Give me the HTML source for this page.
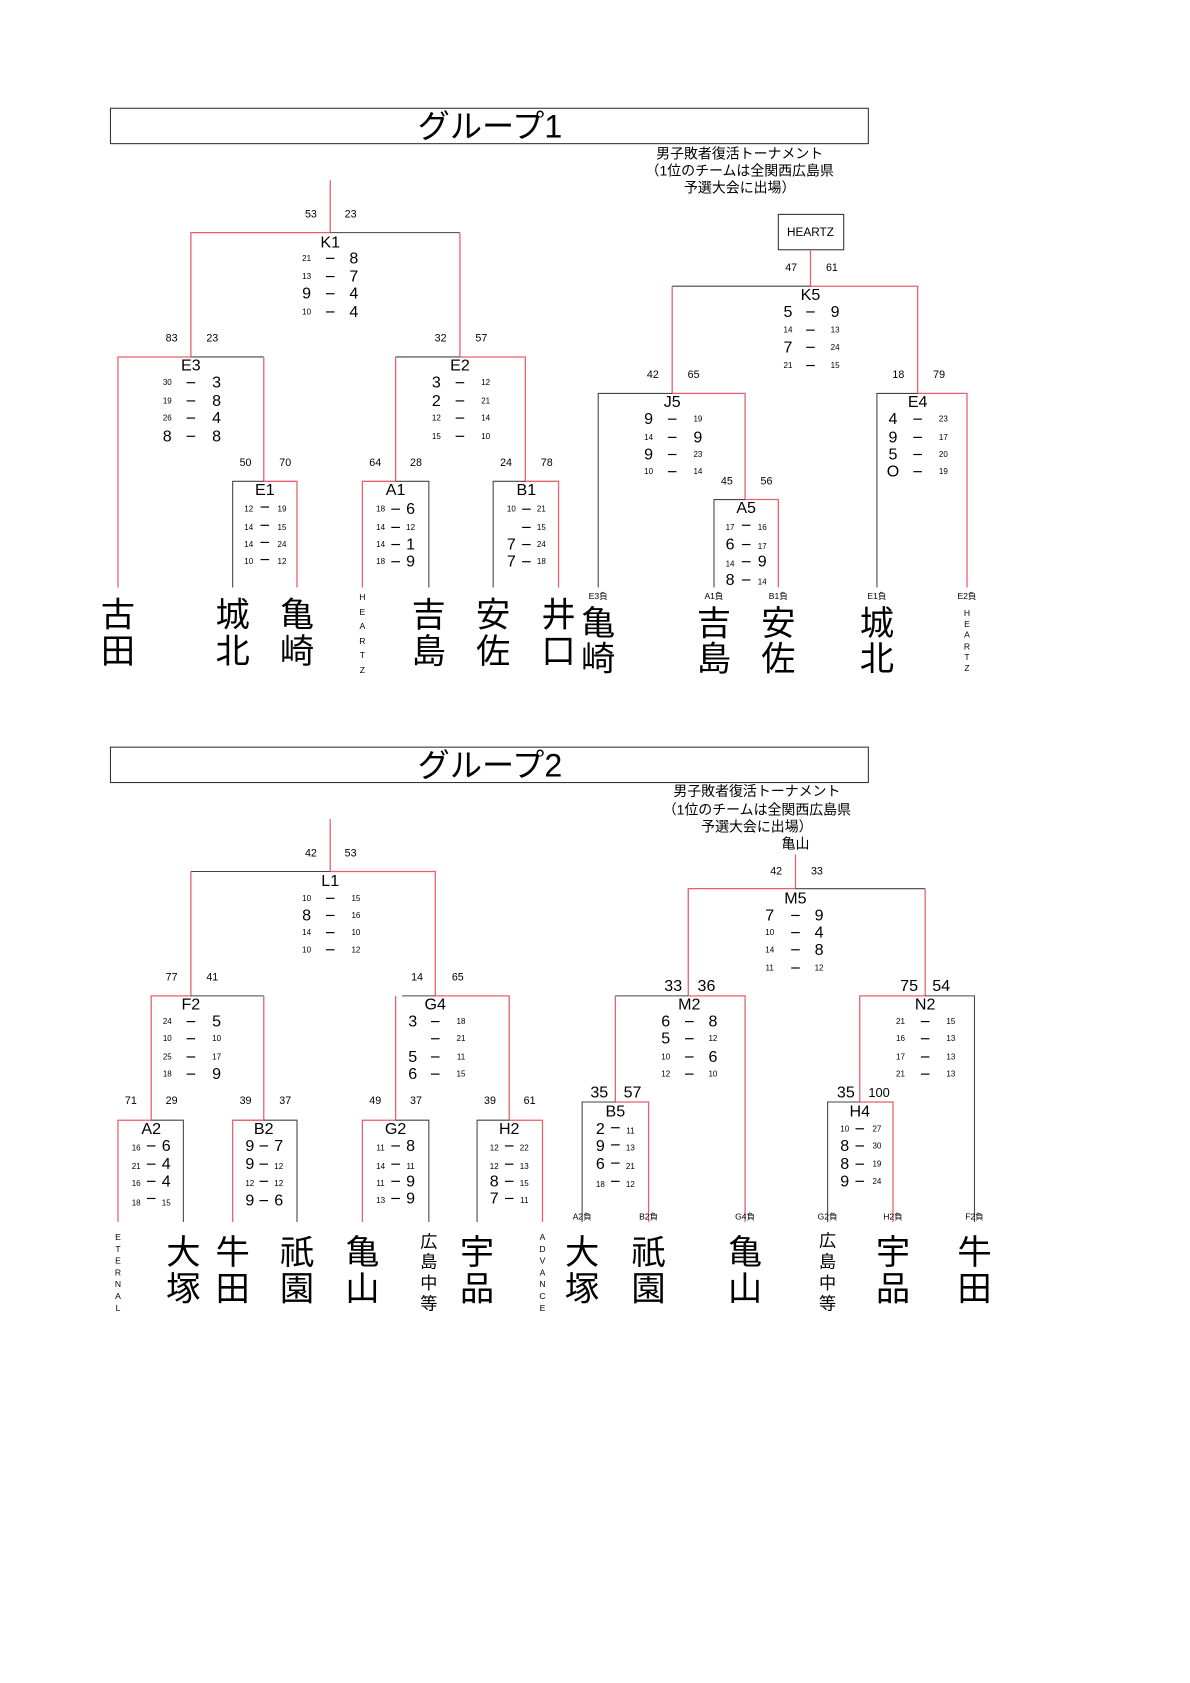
<!DOCTYPE html>
<html><head><meta charset="utf-8">
<style>
html,body{margin:0;padding:0;background:#fff;}
svg{display:block;}
text{font-family:"Liberation Sans","Noto Sans CJK JP",sans-serif;fill:#000;text-anchor:middle;dominant-baseline:central;}
.b{font-size:15px;}
.s{font-size:7.5px;}
.l{font-size:10px;}
.n{font-size:15px;}
.j{font-size:32px;}
.v{font-size:8px;}
.m{font-size:16px;}
.t{font-size:13px;}
.g{font-size:30px;}
.lb{font-size:8px;}
.r{stroke:#e8606e;stroke-width:1.2;fill:none;}
.k{stroke:#444;stroke-width:1;fill:none;}
.d{stroke:#000;stroke-width:1.1;}
</style></head>
<body>
<svg width="1190" height="1683" viewBox="0 0 1110 1570" xmlns="http://www.w3.org/2000/svg">
<!-- ================= GROUP 1 ================= -->
<rect x="103" y="101" width="707" height="33" fill="none" stroke="#333" stroke-width="1"/>
<text x="457" y="118" class="g">グループ1</text>
<text x="690" y="143" class="t">男子敗者復活トーナメント</text>
<text x="690" y="159" class="t">（1位のチームは全関西広島県</text>
<text x="690" y="175" class="t">予選大会に出場）</text>

<!-- K1 -->
<path class="r" d="M308 168V217H178V333"/>
<path class="k" d="M308 217H429"/>
<path class="r" d="M429 217V333"/>
<text x="290" y="200" class="l">53</text><text x="327" y="200" class="l">23</text>
<text x="308" y="226" class="n">K1</text>
<text x="286" y="241" class="s">21</text><line class="d" x1="304" y1="241" x2="312" y2="241"/><text x="330" y="241" class="b">8</text>
<text x="286" y="258" class="s">13</text><line class="d" x1="304" y1="258" x2="312" y2="258"/><text x="330" y="258" class="b">7</text>
<text x="286" y="274" class="b">9</text><line class="d" x1="304" y1="274" x2="312" y2="274"/><text x="330" y="274" class="b">4</text>
<text x="286" y="291" class="s">10</text><line class="d" x1="304" y1="291" x2="312" y2="291"/><text x="330" y="291" class="b">4</text>

<!-- E3 -->
<path class="r" d="M178 333H110V548"/>
<path class="k" d="M178 333H246"/>
<path class="r" d="M246 333V449H277V548"/>
<text x="160" y="316" class="l">83</text><text x="198" y="316" class="l">23</text>
<text x="178" y="341" class="n">E3</text>
<text x="156" y="357" class="s">30</text><line class="d" x1="174" y1="357" x2="182" y2="357"/><text x="202" y="357" class="b">3</text>
<text x="156" y="374" class="s">19</text><line class="d" x1="174" y1="374" x2="182" y2="374"/><text x="202" y="374" class="b">8</text>
<text x="156" y="390" class="s">26</text><line class="d" x1="174" y1="390" x2="182" y2="390"/><text x="202" y="390" class="b">4</text>
<text x="156" y="407" class="b">8</text><line class="d" x1="174" y1="407" x2="182" y2="407"/><text x="202" y="407" class="b">8</text>

<!-- E1 -->
<path class="k" d="M246 449H217V548"/>
<text x="229" y="432" class="l">50</text><text x="266" y="432" class="l">70</text>
<text x="247" y="457" class="n">E1</text>
<text x="232" y="475" class="s">12</text><line class="d" x1="243" y1="473" x2="251" y2="473"/><text x="263" y="475" class="s">19</text>
<text x="232" y="492" class="s">14</text><line class="d" x1="243" y1="490" x2="251" y2="490"/><text x="263" y="492" class="s">15</text>
<text x="232" y="508" class="s">14</text><line class="d" x1="243" y1="506" x2="251" y2="506"/><text x="263" y="508" class="s">24</text>
<text x="232" y="524" class="s">10</text><line class="d" x1="243" y1="522" x2="251" y2="522"/><text x="263" y="524" class="s">12</text>

<!-- E2 -->
<path class="k" d="M369 333H429"/>
<path class="r" d="M429 333H490V449H521V548"/>
<path class="r" d="M369 333V449H338V548"/>
<text x="411" y="316" class="l">32</text><text x="449" y="316" class="l">57</text>
<text x="429" y="341" class="n">E2</text>
<text x="407" y="357" class="b">3</text><line class="d" x1="425" y1="357" x2="433" y2="357"/><text x="453" y="357" class="s">12</text>
<text x="407" y="374" class="b">2</text><line class="d" x1="425" y1="374" x2="433" y2="374"/><text x="453" y="374" class="s">21</text>
<text x="407" y="390" class="s">12</text><line class="d" x1="425" y1="390" x2="433" y2="390"/><text x="453" y="390" class="s">14</text>
<text x="407" y="407" class="s">15</text><line class="d" x1="425" y1="407" x2="433" y2="407"/><text x="453" y="407" class="s">10</text>

<!-- A1 -->
<path class="k" d="M369 449H400V548"/>
<text x="350" y="432" class="l">64</text><text x="388" y="432" class="l">28</text>
<text x="369" y="457" class="n">A1</text>
<text x="355" y="475" class="s">18</text><line class="d" x1="365" y1="475" x2="373" y2="475"/><text x="383" y="475" class="b">6</text>
<text x="355" y="492" class="s">14</text><line class="d" x1="365" y1="492" x2="373" y2="492"/><text x="383" y="492" class="s">12</text>
<text x="355" y="508" class="s">14</text><line class="d" x1="365" y1="508" x2="373" y2="508"/><text x="383" y="508" class="b">1</text>
<text x="355" y="524" class="s">18</text><line class="d" x1="365" y1="524" x2="373" y2="524"/><text x="383" y="524" class="b">9</text>

<!-- B1 -->
<path class="k" d="M490 449H460V548"/>
<text x="472" y="432" class="l">24</text><text x="510" y="432" class="l">78</text>
<text x="491" y="457" class="n">B1</text>
<text x="477" y="475" class="s">10</text><line class="d" x1="487" y1="475" x2="495" y2="475"/><text x="505" y="475" class="s">21</text>
<line class="d" x1="487" y1="492" x2="495" y2="492"/><text x="505" y="492" class="s">15</text>
<text x="477" y="508" class="b">7</text><line class="d" x1="487" y1="508" x2="495" y2="508"/><text x="505" y="508" class="s">24</text>
<text x="477" y="524" class="b">7</text><line class="d" x1="487" y1="524" x2="495" y2="524"/><text x="505" y="524" class="s">18</text>

<!-- names group1 left -->
<text x="110" y="574" class="j">古</text><text x="110" y="608" class="j">田</text>
<text x="217" y="574" class="j">城</text><text x="217" y="608" class="j">北</text>
<text x="277" y="574" class="j">亀</text><text x="277" y="608" class="j">崎</text>
<text x="338" y="557" class="v">H</text><text x="338" y="571" class="v">E</text><text x="338" y="584" class="v">A</text><text x="338" y="598" class="v">R</text><text x="338" y="611" class="v">T</text><text x="338" y="625" class="v">Z</text>
<text x="400" y="574" class="j">吉</text><text x="400" y="608" class="j">島</text>
<text x="460" y="574" class="j">安</text><text x="460" y="608" class="j">佐</text>
<text x="521" y="574" class="j">井</text><text x="521" y="608" class="j">口</text>

<!-- right group1 -->
<rect x="726" y="200" width="61" height="33" fill="none" stroke="#333" stroke-width="1"/>
<text x="756" y="217" class="l" style="font-size:11px">HEARTZ</text>
<path class="r" d="M756 233V267H856V367H902V548"/>
<path class="k" d="M756 267H627"/>
<path class="r" d="M627 267V367H695V466H726V548"/>
<text x="738" y="250" class="l">47</text><text x="776" y="250" class="l">61</text>
<text x="756" y="275" class="n">K5</text>
<text x="735" y="291" class="b">5</text><line class="d" x1="752" y1="291" x2="760" y2="291"/><text x="779" y="291" class="b">9</text>
<text x="735" y="308" class="s">14</text><line class="d" x1="752" y1="308" x2="760" y2="308"/><text x="779" y="308" class="s">13</text>
<text x="735" y="324" class="b">7</text><line class="d" x1="752" y1="324" x2="760" y2="324"/><text x="779" y="324" class="s">24</text>
<text x="735" y="341" class="s">21</text><line class="d" x1="752" y1="341" x2="760" y2="341"/><text x="779" y="341" class="s">15</text>

<path class="k" d="M627 367H558V548"/>
<text x="609" y="350" class="l">42</text><text x="647" y="350" class="l">65</text>
<text x="627" y="375" class="n">J5</text>
<text x="605" y="391" class="b">9</text><line class="d" x1="623" y1="391" x2="631" y2="391"/><text x="651" y="391" class="s">19</text>
<text x="605" y="408" class="s">14</text><line class="d" x1="623" y1="408" x2="631" y2="408"/><text x="651" y="408" class="b">9</text>
<text x="605" y="424" class="b">9</text><line class="d" x1="623" y1="424" x2="631" y2="424"/><text x="651" y="424" class="s">23</text>
<text x="605" y="440" class="s">10</text><line class="d" x1="623" y1="440" x2="631" y2="440"/><text x="651" y="440" class="s">14</text>

<path class="k" d="M695 466H666V548"/>
<text x="678" y="449" class="l">45</text><text x="715" y="449" class="l">56</text>
<text x="696" y="474" class="n">A5</text>
<text x="681" y="492" class="s">17</text><line class="d" x1="692" y1="490" x2="700" y2="490"/><text x="711" y="492" class="s">16</text>
<text x="681" y="508" class="b">6</text><line class="d" x1="692" y1="508" x2="700" y2="508"/><text x="711" y="510" class="s">17</text>
<text x="681" y="526" class="s">14</text><line class="d" x1="692" y1="524" x2="700" y2="524"/><text x="711" y="524" class="b">9</text>
<text x="681" y="541" class="b">8</text><line class="d" x1="692" y1="541" x2="700" y2="541"/><text x="711" y="543" class="s">14</text>

<path class="k" d="M856 367H818V548"/>
<text x="838" y="350" class="l">18</text><text x="876" y="350" class="l">79</text>
<text x="856" y="375" class="n">E4</text>
<text x="833" y="391" class="b">4</text><line class="d" x1="852" y1="391" x2="860" y2="391"/><text x="880" y="391" class="s">23</text>
<text x="833" y="408" class="b">9</text><line class="d" x1="852" y1="408" x2="860" y2="408"/><text x="880" y="408" class="s">17</text>
<text x="833" y="424" class="b">5</text><line class="d" x1="852" y1="424" x2="860" y2="424"/><text x="880" y="424" class="s">20</text>
<text x="833" y="440" class="b">O</text><line class="d" x1="852" y1="440" x2="860" y2="440"/><text x="880" y="440" class="s">19</text>

<text x="558" y="556" class="lb">E3負</text><text x="666" y="556" class="lb">A1負</text><text x="726" y="556" class="lb">B1負</text><text x="818" y="556" class="lb">E1負</text><text x="902" y="556" class="lb">E2負</text>
<text x="558" y="582" class="j">亀</text><text x="558" y="615" class="j">崎</text>
<text x="666" y="582" class="j">吉</text><text x="666" y="615" class="j">島</text>
<text x="726" y="582" class="j">安</text><text x="726" y="615" class="j">佐</text>
<text x="818" y="582" class="j">城</text><text x="818" y="615" class="j">北</text>
<text x="902" y="572" class="v">H</text><text x="902" y="582" class="v">E</text><text x="902" y="592" class="v">A</text><text x="902" y="603" class="v">R</text><text x="902" y="613" class="v">T</text><text x="902" y="623" class="v">Z</text>

<!-- ================= GROUP 2 ================= -->
<rect x="103" y="697" width="707" height="33" fill="none" stroke="#333" stroke-width="1"/>
<text x="457" y="714" class="g">グループ2</text>
<text x="706" y="738" class="t">男子敗者復活トーナメント</text>
<text x="706" y="755" class="t">（1位のチームは全関西広島県</text>
<text x="706" y="771" class="t">予選大会に出場）</text>
<text x="742" y="787" class="t">亀山</text>

<!-- L1 -->
<path class="r" d="M308 764V813H406V929H475V1045H506V1140"/>
<path class="k" d="M308 813H178"/>
<path class="r" d="M178 813V929H141V1045H110V1140"/>
<text x="290" y="796" class="l">42</text><text x="327" y="796" class="l">53</text>
<text x="308" y="822" class="n">L1</text>
<text x="286" y="838" class="s">10</text><line class="d" x1="304" y1="838" x2="312" y2="838"/><text x="332" y="838" class="s">15</text>
<text x="286" y="854" class="b">8</text><line class="d" x1="304" y1="854" x2="312" y2="854"/><text x="332" y="854" class="s">16</text>
<text x="286" y="870" class="s">14</text><line class="d" x1="304" y1="870" x2="312" y2="870"/><text x="332" y="870" class="s">10</text>
<text x="286" y="886" class="s">10</text><line class="d" x1="304" y1="886" x2="312" y2="886"/><text x="332" y="886" class="s">12</text>

<!-- F2 -->
<path class="k" d="M178 929H246"/>
<path class="r" d="M246 929V1045H217V1140"/>
<text x="160" y="912" class="l">77</text><text x="198" y="912" class="l">41</text>
<text x="178" y="937" class="n">F2</text>
<text x="156" y="953" class="s">24</text><line class="d" x1="174" y1="953" x2="182" y2="953"/><text x="202" y="953" class="b">5</text>
<text x="156" y="969" class="s">10</text><line class="d" x1="174" y1="969" x2="182" y2="969"/><text x="202" y="969" class="s">10</text>
<text x="156" y="986" class="s">25</text><line class="d" x1="174" y1="986" x2="182" y2="986"/><text x="202" y="986" class="s">17</text>
<text x="156" y="1002" class="s">18</text><line class="d" x1="174" y1="1002" x2="182" y2="1002"/><text x="202" y="1002" class="b">9</text>

<!-- A2 -->
<path class="k" d="M141 1045H171V1140"/>
<text x="122" y="1027" class="l">71</text><text x="160" y="1027" class="l">29</text>
<text x="141" y="1053" class="n">A2</text>
<text x="127" y="1071" class="s">16</text><line class="d" x1="137" y1="1069" x2="145" y2="1069"/><text x="155" y="1069" class="b">6</text>
<text x="127" y="1088" class="s">21</text><line class="d" x1="137" y1="1086" x2="145" y2="1086"/><text x="155" y="1086" class="b">4</text>
<text x="127" y="1104" class="s">16</text><line class="d" x1="137" y1="1102" x2="145" y2="1102"/><text x="155" y="1102" class="b">4</text>
<text x="127" y="1122" class="s">18</text><line class="d" x1="137" y1="1118" x2="145" y2="1118"/><text x="155" y="1122" class="s">15</text>

<!-- B2 -->
<path class="k" d="M246 1045H277V1140"/>
<path class="r" d="M246 1045H217"/>
<text x="229" y="1027" class="l">39</text><text x="266" y="1027" class="l">37</text>
<text x="246" y="1053" class="n">B2</text>
<text x="233" y="1069" class="b">9</text><line class="d" x1="242" y1="1069" x2="250" y2="1069"/><text x="260" y="1069" class="b">7</text>
<text x="233" y="1086" class="b">9</text><line class="d" x1="242" y1="1086" x2="250" y2="1086"/><text x="260" y="1088" class="s">12</text>
<text x="233" y="1104" class="s">12</text><line class="d" x1="242" y1="1102" x2="250" y2="1102"/><text x="260" y="1104" class="s">12</text>
<text x="233" y="1120" class="b">9</text><line class="d" x1="242" y1="1120" x2="250" y2="1120"/><text x="260" y="1120" class="b">6</text>

<!-- G4 -->
<path class="k" d="M406 929H375"/>
<path class="r" d="M369 929V1045H338V1140"/>
<text x="389" y="912" class="l">14</text><text x="427" y="912" class="l">65</text>
<text x="406" y="937" class="n">G4</text>
<text x="385" y="953" class="b">3</text><line class="d" x1="402" y1="953" x2="410" y2="953"/><text x="430" y="953" class="s">18</text>
<line class="d" x1="402" y1="969" x2="410" y2="969"/><text x="430" y="969" class="s">21</text>
<text x="385" y="986" class="b">5</text><line class="d" x1="402" y1="986" x2="410" y2="986"/><text x="430" y="986" class="s">11</text>
<text x="385" y="1002" class="b">6</text><line class="d" x1="402" y1="1002" x2="410" y2="1002"/><text x="430" y="1002" class="s">15</text>

<!-- G2 -->
<path class="k" d="M369 1045H400V1140"/>
<text x="350" y="1027" class="l">49</text><text x="388" y="1027" class="l">37</text>
<text x="369" y="1053" class="n">G2</text>
<text x="355" y="1071" class="s">11</text><line class="d" x1="365" y1="1069" x2="373" y2="1069"/><text x="383" y="1069" class="b">8</text>
<text x="355" y="1088" class="s">14</text><line class="d" x1="365" y1="1086" x2="373" y2="1086"/><text x="383" y="1088" class="s">11</text>
<text x="355" y="1104" class="s">11</text><line class="d" x1="365" y1="1102" x2="373" y2="1102"/><text x="383" y="1102" class="b">9</text>
<text x="355" y="1120" class="s">13</text><line class="d" x1="365" y1="1118" x2="373" y2="1118"/><text x="383" y="1118" class="b">9</text>

<!-- H2 -->
<path class="k" d="M475 1045H445V1140"/>
<text x="457" y="1027" class="l">39</text><text x="494" y="1027" class="l">61</text>
<text x="475" y="1053" class="n">H2</text>
<text x="461" y="1071" class="s">12</text><line class="d" x1="471" y1="1069" x2="479" y2="1069"/><text x="489" y="1071" class="s">22</text>
<text x="461" y="1088" class="s">12</text><line class="d" x1="471" y1="1086" x2="479" y2="1086"/><text x="489" y="1088" class="s">13</text>
<text x="461" y="1102" class="b">8</text><line class="d" x1="471" y1="1102" x2="479" y2="1102"/><text x="489" y="1104" class="s">15</text>
<text x="461" y="1118" class="b">7</text><line class="d" x1="471" y1="1118" x2="479" y2="1118"/><text x="489" y="1120" class="s">11</text>

<!-- names group2 left -->
<text x="110" y="1154" class="v">E</text><text x="110" y="1165" class="v">T</text><text x="110" y="1176" class="v">E</text><text x="110" y="1187" class="v">R</text><text x="110" y="1198" class="v">N</text><text x="110" y="1209" class="v">A</text><text x="110" y="1220" class="v">L</text>
<text x="171" y="1169" class="j">大</text><text x="171" y="1203" class="j">塚</text>
<text x="217" y="1169" class="j">牛</text><text x="217" y="1203" class="j">田</text>
<text x="277" y="1169" class="j">祇</text><text x="277" y="1203" class="j">園</text>
<text x="338" y="1169" class="j">亀</text><text x="338" y="1203" class="j">山</text>
<text x="400" y="1158" class="m">広</text><text x="400" y="1177" class="m">島</text><text x="400" y="1197" class="m">中</text><text x="400" y="1216" class="m">等</text>
<text x="445" y="1169" class="j">宇</text><text x="445" y="1203" class="j">品</text>
<text x="506" y="1154" class="v">A</text><text x="506" y="1165" class="v">D</text><text x="506" y="1176" class="v">V</text><text x="506" y="1187" class="v">A</text><text x="506" y="1198" class="v">N</text><text x="506" y="1209" class="v">C</text><text x="506" y="1220" class="v">E</text>

<!-- right group2 -->
<path class="r" d="M742 797V829H642V929H695V1140"/>
<path class="k" d="M742 829H863"/>
<path class="r" d="M863 829V929H802V1028H833V1140"/>
<text x="724" y="813" class="l">42</text><text x="762" y="813" class="l">33</text>
<text x="742" y="838" class="n">M5</text>
<text x="718" y="854" class="b">7</text><line class="d" x1="738" y1="854" x2="746" y2="854"/><text x="764" y="854" class="b">9</text>
<text x="718" y="870" class="s">10</text><line class="d" x1="738" y1="870" x2="746" y2="870"/><text x="764" y="870" class="b">4</text>
<text x="718" y="886" class="s">14</text><line class="d" x1="738" y1="886" x2="746" y2="886"/><text x="764" y="886" class="b">8</text>
<text x="718" y="903" class="s">11</text><line class="d" x1="738" y1="903" x2="746" y2="903"/><text x="764" y="903" class="s">12</text>

<!-- M2 -->
<path class="k" d="M642 929H574"/>
<path class="r" d="M574 929V1028H605V1140"/>
<text x="628" y="920" class="b">33</text><text x="659" y="920" class="b">36</text>
<text x="643" y="937" class="n">M2</text>
<text x="621" y="953" class="b">6</text><line class="d" x1="639" y1="953" x2="647" y2="953"/><text x="665" y="953" class="b">8</text>
<text x="621" y="969" class="b">5</text><line class="d" x1="639" y1="969" x2="647" y2="969"/><text x="665" y="969" class="s">12</text>
<text x="621" y="986" class="s">10</text><line class="d" x1="639" y1="986" x2="647" y2="986"/><text x="665" y="986" class="b">6</text>
<text x="621" y="1002" class="s">12</text><line class="d" x1="639" y1="1002" x2="647" y2="1002"/><text x="665" y="1002" class="s">10</text>

<!-- B5 -->
<path class="k" d="M574 1028H543V1140"/>
<text x="559" y="1019" class="b">35</text><text x="590" y="1019" class="b">57</text>
<text x="574" y="1037" class="n">B5</text>
<text x="560" y="1053" class="b">2</text><line class="d" x1="570" y1="1052" x2="578" y2="1052"/><text x="588" y="1055" class="s">11</text>
<text x="560" y="1069" class="b">9</text><line class="d" x1="570" y1="1068" x2="578" y2="1068"/><text x="588" y="1071" class="s">13</text>
<text x="560" y="1086" class="b">6</text><line class="d" x1="570" y1="1085" x2="578" y2="1085"/><text x="588" y="1088" class="s">21</text>
<text x="560" y="1105" class="s">18</text><line class="d" x1="570" y1="1102" x2="578" y2="1102"/><text x="588" y="1105" class="s">12</text>

<!-- N2 -->
<path class="k" d="M863 929H909V1140"/>
<text x="848" y="920" class="b">75</text><text x="878" y="920" class="b">54</text>
<text x="863" y="937" class="n">N2</text>
<text x="840" y="953" class="s">21</text><line class="d" x1="859" y1="953" x2="867" y2="953"/><text x="887" y="953" class="s">15</text>
<text x="840" y="969" class="s">16</text><line class="d" x1="859" y1="969" x2="867" y2="969"/><text x="887" y="969" class="s">13</text>
<text x="840" y="986" class="s">17</text><line class="d" x1="859" y1="986" x2="867" y2="986"/><text x="887" y="986" class="s">13</text>
<text x="840" y="1002" class="s">21</text><line class="d" x1="859" y1="1002" x2="867" y2="1002"/><text x="887" y="1002" class="s">13</text>

<!-- H4 -->
<path class="k" d="M802 1028H772V1140"/>
<text x="789" y="1019" class="b">35</text><text x="820" y="1019" class="l" style="font-size:12px">100</text>
<text x="802" y="1037" class="n">H4</text>
<text x="788" y="1053" class="s">10</text><line class="d" x1="798" y1="1053" x2="806" y2="1053"/><text x="818" y="1053" class="s">27</text>
<text x="788" y="1069" class="b">8</text><line class="d" x1="798" y1="1069" x2="806" y2="1069"/><text x="818" y="1069" class="s">30</text>
<text x="788" y="1086" class="b">8</text><line class="d" x1="798" y1="1086" x2="806" y2="1086"/><text x="818" y="1086" class="s">19</text>
<text x="788" y="1102" class="b">9</text><line class="d" x1="798" y1="1102" x2="806" y2="1102"/><text x="818" y="1102" class="s">24</text>

<text x="543" y="1135" class="lb">A2負</text><text x="605" y="1135" class="lb">B2負</text><text x="695" y="1135" class="lb">G4負</text><text x="772" y="1135" class="lb">G2負</text><text x="833" y="1135" class="lb">H2負</text><text x="909" y="1135" class="lb">F2負</text>
<text x="543" y="1169" class="j">大</text><text x="543" y="1203" class="j">塚</text>
<text x="605" y="1169" class="j">祇</text><text x="605" y="1203" class="j">園</text>
<text x="695" y="1169" class="j">亀</text><text x="695" y="1203" class="j">山</text>
<text x="772" y="1157" class="m">広</text><text x="772" y="1177" class="m">島</text><text x="772" y="1197" class="m">中</text><text x="772" y="1216" class="m">等</text>
<text x="833" y="1169" class="j">宇</text><text x="833" y="1203" class="j">品</text>
<text x="909" y="1169" class="j">牛</text><text x="909" y="1203" class="j">田</text>
</svg>
</body></html>
